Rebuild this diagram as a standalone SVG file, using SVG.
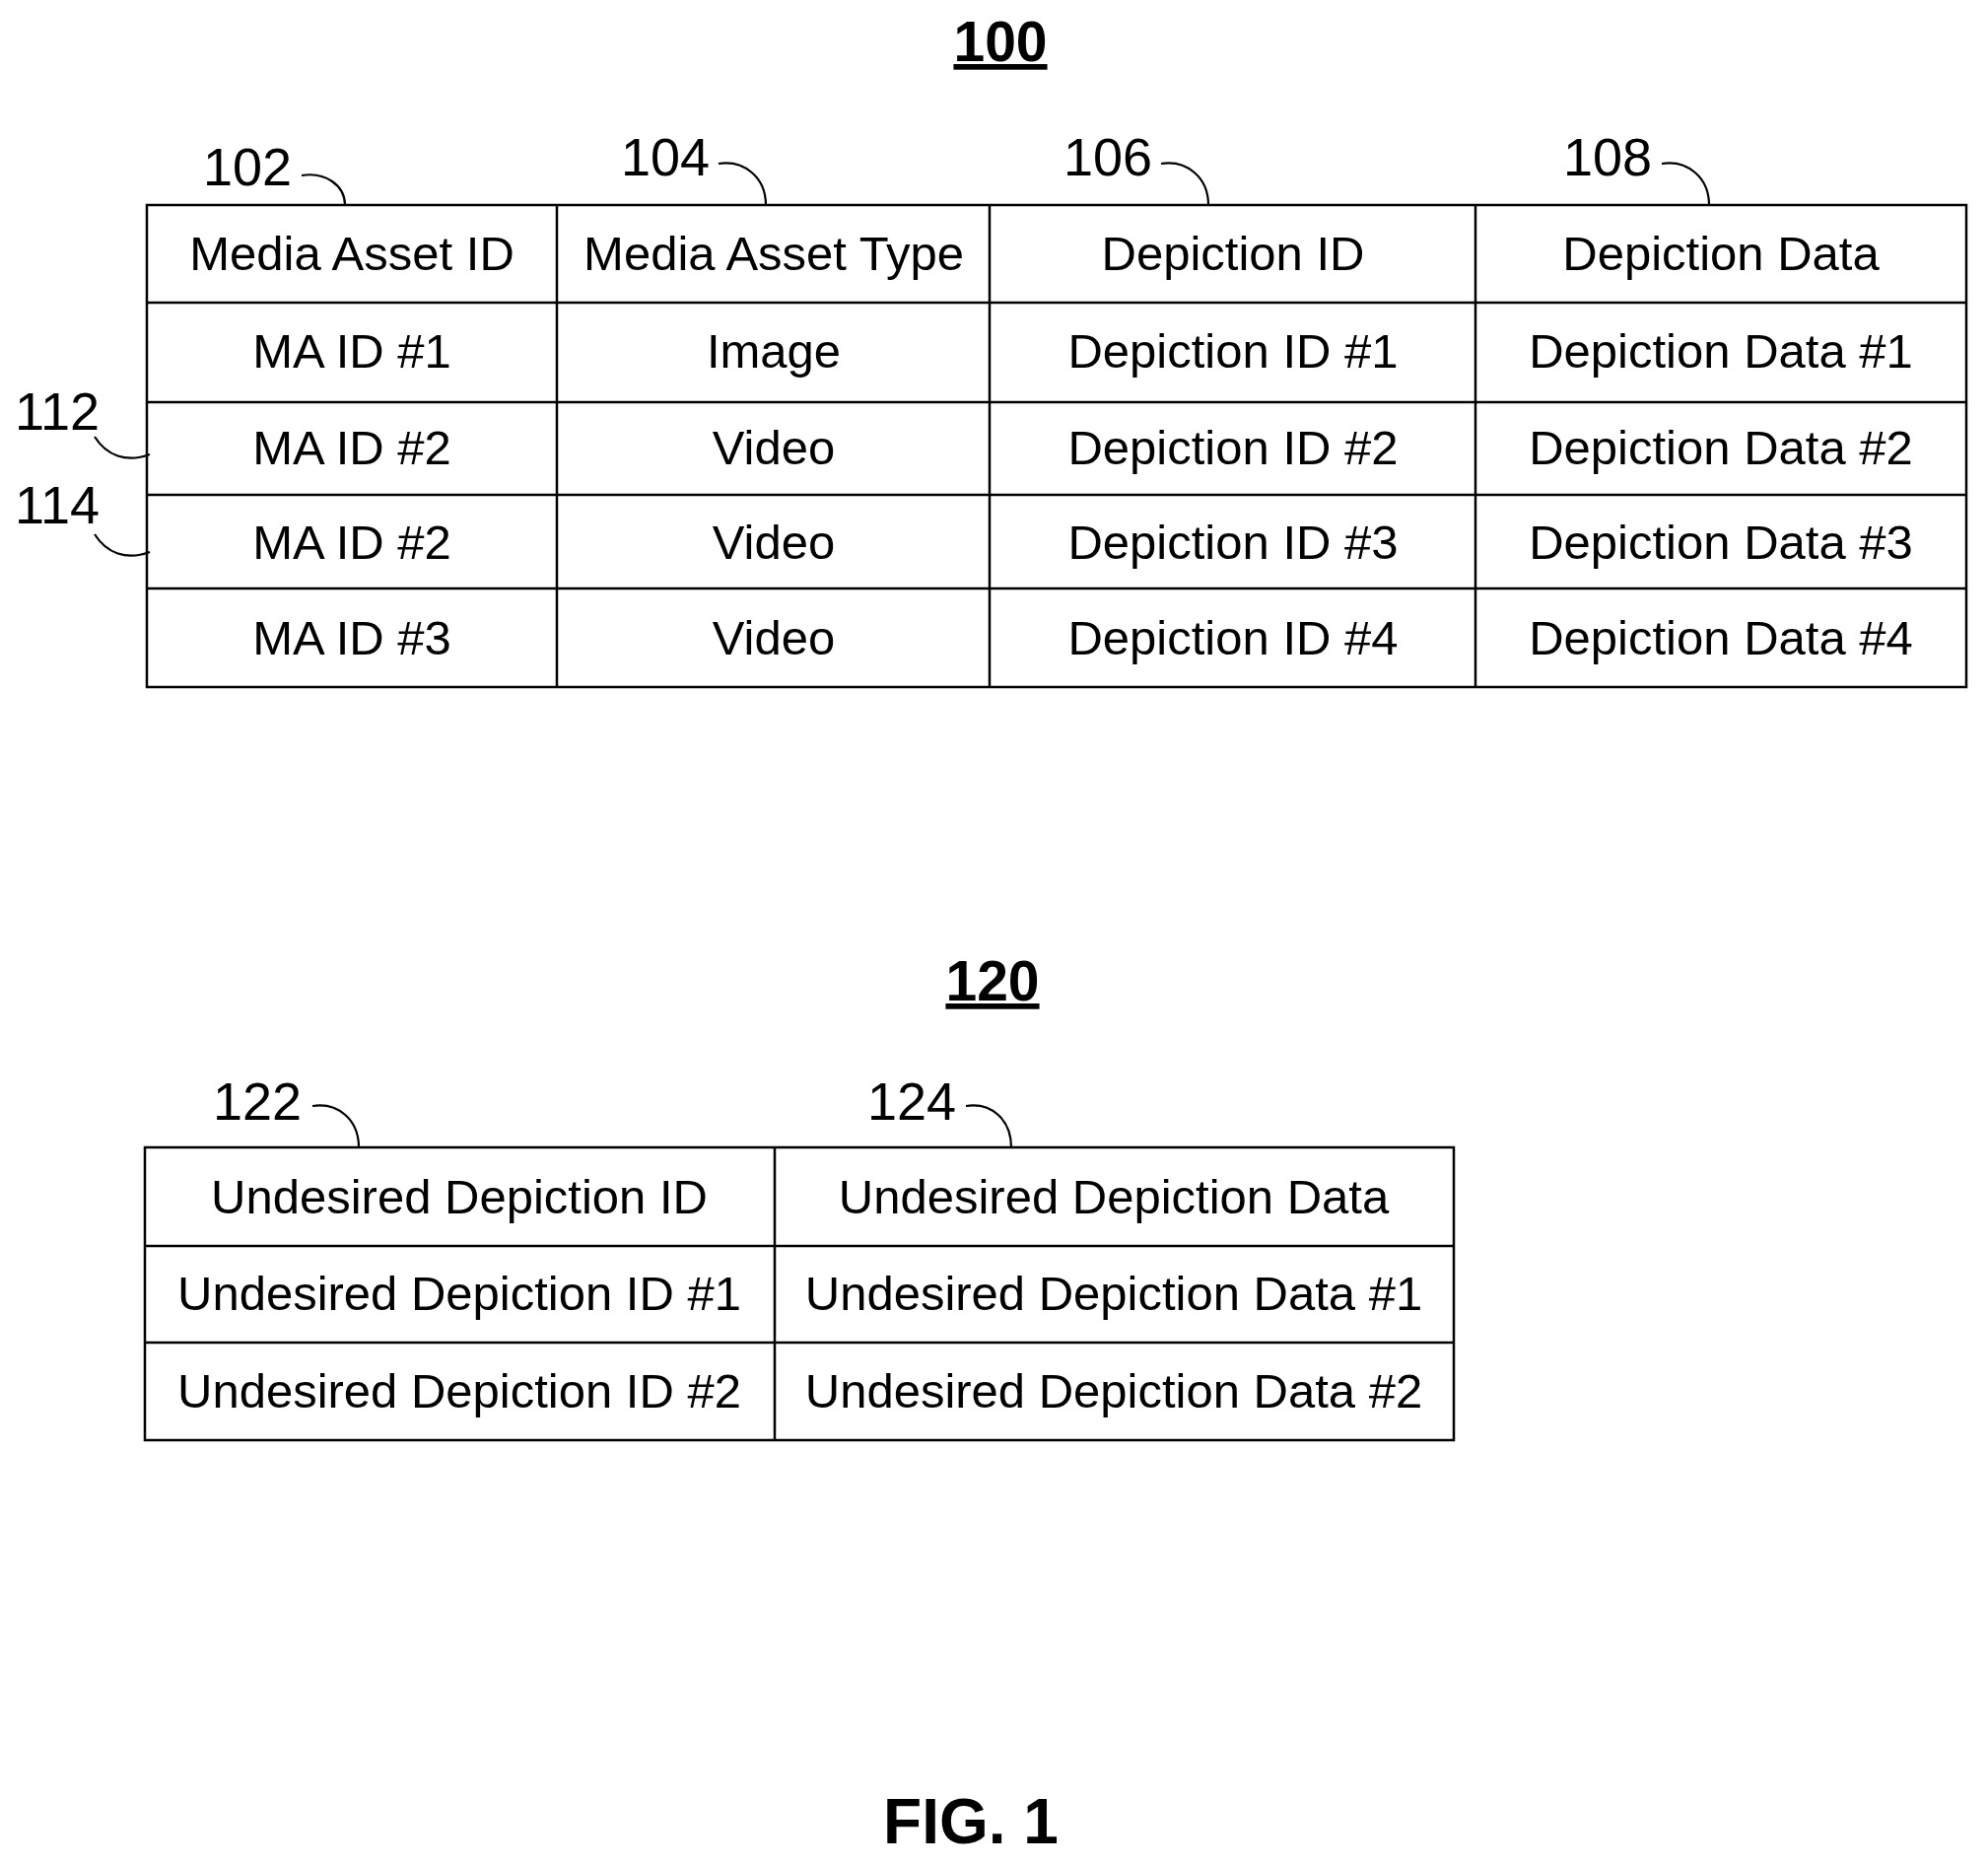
<svg xmlns="http://www.w3.org/2000/svg" width="2017" height="1892" viewBox="0 0 2017 1892">
<style>
text{font-family:"Liberation Sans",Arial,sans-serif;fill:#000}
.c{font-size:49px;text-anchor:middle}
.r{font-size:54px}
.t{font-size:57px;font-weight:bold;text-anchor:middle;text-decoration:underline}
.g{stroke:#000;stroke-width:2.5;fill:none}
.l{stroke:#000;stroke-width:2.2;fill:none}
</style>
<rect width="2017" height="1892" fill="#fff"/>
<text class="t" x="1015" y="62">100</text>
<g id="table100">
<rect class="g" x="149" y="208" width="1846" height="489"/>
<path class="g" d="M565,208V697M1004,208V697M1497,208V697M149,307H1995M149,408H1995M149,502H1995M149,597H1995"/>
<text class="c" x="357" y="274">Media Asset ID</text>
<text class="c" x="785" y="274">Media Asset Type</text>
<text class="c" x="1251" y="274">Depiction ID</text>
<text class="c" x="1746" y="274">Depiction Data</text>
<text class="c" x="357" y="373">MA ID #1</text>
<text class="c" x="785" y="373">Image</text>
<text class="c" x="1251" y="373">Depiction ID #1</text>
<text class="c" x="1746" y="373">Depiction Data #1</text>
<text class="c" x="357" y="471">MA ID #2</text>
<text class="c" x="785" y="471">Video</text>
<text class="c" x="1251" y="471">Depiction ID #2</text>
<text class="c" x="1746" y="471">Depiction Data #2</text>
<text class="c" x="357" y="567">MA ID #2</text>
<text class="c" x="785" y="567">Video</text>
<text class="c" x="1251" y="567">Depiction ID #3</text>
<text class="c" x="1746" y="567">Depiction Data #3</text>
<text class="c" x="357" y="664">MA ID #3</text>
<text class="c" x="785" y="664">Video</text>
<text class="c" x="1251" y="664">Depiction ID #4</text>
<text class="c" x="1746" y="664">Depiction Data #4</text>
</g>
<g id="refs100">
<text class="r" x="206" y="188">102</text>
<text class="r" x="630" y="178">104</text>
<text class="r" x="1079" y="178">106</text>
<text class="r" x="1586" y="178">108</text>
<text class="r" x="15" y="436">112</text>
<text class="r" x="15" y="531">114</text>
</g>
<text class="t" x="1007" y="1015">120</text>
<g id="table120">
<rect class="g" x="147" y="1164" width="1328" height="297"/>
<path class="g" d="M786,1164V1461M147,1264H1475M147,1362H1475"/>
<text class="c" x="466" y="1231">Undesired Depiction ID</text>
<text class="c" x="1130" y="1231">Undesired Depiction Data</text>
<text class="c" x="466" y="1329">Undesired Depiction ID #1</text>
<text class="c" x="1130" y="1329">Undesired Depiction Data #1</text>
<text class="c" x="466" y="1428">Undesired Depiction ID #2</text>
<text class="c" x="1130" y="1428">Undesired Depiction Data #2</text>
</g>
<g id="refs120">
<text class="r" x="216" y="1136">122</text>
<text class="r" x="880" y="1136">124</text>
</g>
<g id="connectors">
<path class="l" d="M306,178C330,174 350,188 350,208"/>
<path class="l" d="M729,166C755,162 777,180 777,208"/>
<path class="l" d="M1178,166C1204,162 1226,180 1226,208"/>
<path class="l" d="M1686,166C1712,162 1734,180 1734,208"/>
<path class="l" d="M96,443C108,462 128,470 152,461"/>
<path class="l" d="M96,542C108,561 128,569 152,560"/>
<path class="l" d="M317,1122C343,1118 364,1136 364,1164"/>
<path class="l" d="M980,1122C1006,1118 1026,1136 1026,1164"/>
</g>
<text x="985" y="1870" style="font-size:64px;font-weight:bold;text-anchor:middle">FIG. 1</text>
</svg>
